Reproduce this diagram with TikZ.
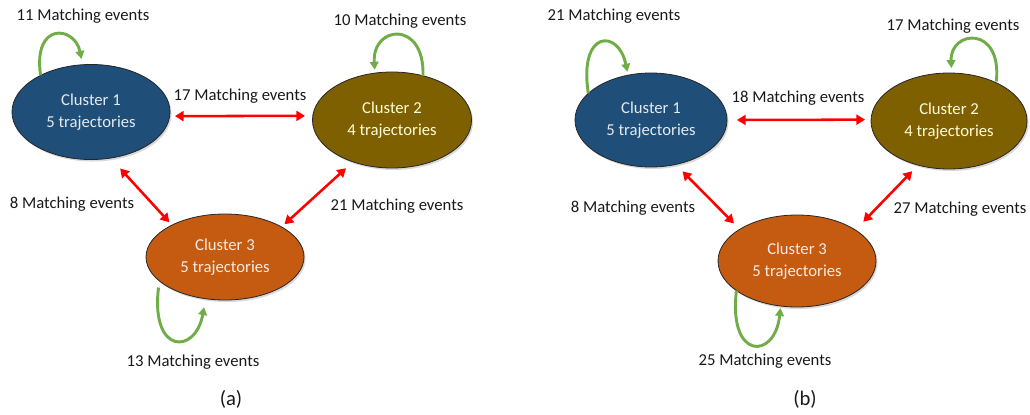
\documentclass[tikz,border=0pt]{standalone}
\usepackage{fontspec}
\setmainfont{Carlito}
\usetikzlibrary{arrows.meta,shapes.geometric,shadows}
\definecolor{clblue}{RGB}{31,78,121}
\definecolor{clolive}{RGB}{127,96,0}
\definecolor{clrust}{RGB}{197,90,17}
\definecolor{loopgreen}{RGB}{112,173,71}
\definecolor{linkred}{RGB}{255,0,0}
\tikzset{
  clus/.style={ellipse,draw=black!85,line width=0.6pt,inner sep=0pt,outer sep=0pt,
               align=center,font=\fontsize{12.5}{17}\selectfont,
               drop shadow={shadow xshift=1.2pt,shadow yshift=-1.5pt,opacity=0.3}},
  cblue/.style={clus,fill=clblue,text=white!88!clblue},
  colive/.style={clus,fill=clolive,text=white!85!yellow},
  crust/.style={clus,fill=clrust,text=white!88!clrust},
  link/.style={linkred,line width=1.9pt,
               {Triangle[length=6.5pt,width=7.5pt]}-{Triangle[length=6.5pt,width=7.5pt]}},
  selfloop/.style={loopgreen,line width=2.2pt,-{Triangle[length=6pt,width=6.5pt]}},
  mlab/.style={anchor=base,font=\fontsize{12.5}{15}\selectfont,text=black!90},
  caplab/.style={anchor=base,font=\fontsize{15.5}{18}\selectfont,text=black!90}
}
\begin{document}
\begin{tikzpicture}[x=0.75pt,y=-0.75pt]
    \useasboundingbox (0,0) rectangle (1030,414);
    % --- (a)
    \node[cblue,minimum width=118.5pt,minimum height=71.3pt]  (c1a) at (91,112)  {Cluster 1\\5 trajectories};
    \node[colive,minimum width=119.3pt,minimum height=72pt]   (c2a) at (392,120) {Cluster 2\\4 trajectories};
    \node[crust,minimum width=118.5pt,minimum height=64.5pt]  (c3a) at (225,257) {Cluster 3\\5 trajectories};
    \draw[link,shorten <=3.9pt,shorten >=5.8pt] (c1a.-3) -- (c2a.177);
    \draw[link,shorten <=10.6pt,shorten >=2.9pt] (c1a.-67) -- (c3a.149);
    \draw[link,shorten <=7.1pt,shorten >=3pt] (c2a.227) -- (c3a.28);
    \draw[selfloop,shorten >=4.4pt] (c1a.144) .. controls +(-8,-54) and +(-8,-39) .. (c1a.100);
    \draw[selfloop,shorten >=2.5pt] (c2a.55) .. controls +(2,-56) and +(-3,-48) .. (c2a.110);
    \draw[selfloop,shorten <=5pt,shorten >=6.4pt] (c3a.200) .. controls +(-9,74) and +(-10,56) .. (c3a.245);
    \node[mlab] (m11a) at (83,21)   {11 Matching events};
    \node[mlab] (m12a) at (240,100) {17 Matching events};
    \node[mlab] (m22a) at (400,25)  {10 Matching events};
    \node[mlab] (m13a) at (72,208)  {8 Matching events};
    \node[mlab] (m23a) at (397,210) {21 Matching events};
    \node[mlab] (m33a) at (193,366) {13 Matching events};
    \node[caplab] (capa) at (231,405) {(a)};
    % --- (b)
    \node[cblue,minimum width=114pt,minimum height=70.5pt]    (c1b) at (651,120) {Cluster 1\\5 trajectories};
    \node[colive,minimum width=117pt,minimum height=72pt]     (c2b) at (949,121) {Cluster 2\\4 trajectories};
    \node[crust,minimum width=118.5pt,minimum height=69pt]    (c3b) at (797,261) {Cluster 3\\5 trajectories};
    \draw[link,shorten <=7.5pt,shorten >=4.5pt] (c1b.0) -- (c2b.179);
    \draw[link,shorten <=7.3pt,shorten >=6.2pt] (c1b.-61) -- (c3b.151);
    \draw[link,shorten <=6.4pt,shorten >=8.6pt] (c2b.235) -- (c3b.28);
    \draw[selfloop,shorten >=2.6pt] (c1b.157) .. controls +(-10,-63) and +(-10,-47) .. (c1b.117);
    \draw[selfloop,shorten <=1pt,shorten >=3.7pt] (c2b.39) .. controls +(6,-58) and +(-1.5,-43) .. (c2b.87);
    \draw[selfloop,shorten >=1.5pt] (c3b.206) .. controls +(-8.5,70) and +(-5.6,54) .. (c3b.250);
    \node[mlab] (m11b) at (614,21)  {21 Matching events};
    \node[mlab] (m12b) at (798,102) {18 Matching events};
    \node[mlab] (m22b) at (953,31)  {17 Matching events};
    \node[mlab] (m13b) at (633,212) {8 Matching events};
    \node[mlab] (m23b) at (960,213) {27 Matching events};
    \node[mlab] (m33b) at (765,365) {25 Matching events};
    \node[caplab] (capb) at (805,405) {(b)};
\end{tikzpicture}
\end{document}
